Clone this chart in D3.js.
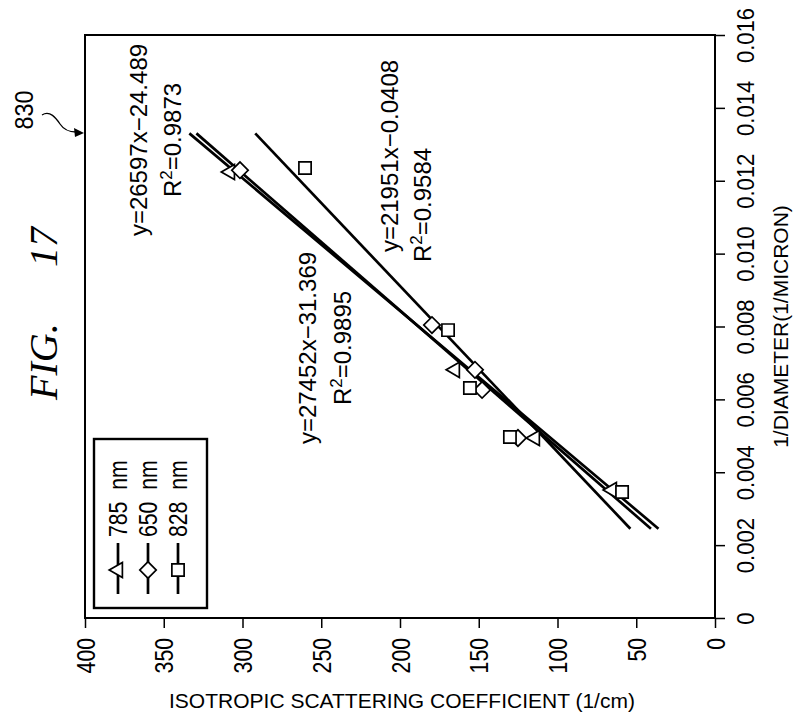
<!DOCTYPE html>
<html><head><meta charset="utf-8">
<script src="https://cdn.jsdelivr.net/npm/d3@7/dist/d3.min.js"></script>
<style>body{margin:0;background:#fff}svg{display:block}</style>
</head><body>
<svg id="c" width="801" height="725"></svg>
<script>
// ---------- data ----------
const scatterTicks = [400, 350, 300, 250, 200, 150, 100, 50, 0];
const invTicks = [0, 0.002, 0.004, 0.006, 0.008, 0.010, 0.012, 0.014, 0.016];
const seriesNames = ["785  nm", "650  nm", "828  nm"];
const inv785  = [0.01224, 0.00681, 0.00494, 0.00351];
const scat785 = [307.9, 165.1, 114.3, 65.4];
const inv650  = [0.01229, 0.00804, 0.00681, 0.00626, 0.00494];
const scat650 = [301.6, 179.7, 152.4, 147.9, 125.1];
const inv828  = [0.01235, 0.00790, 0.00631, 0.00497, 0.00346];
const scat828 = [260.3, 169.5, 155.6, 130.2, 59.0];
const slopes = [27452, 26597, 21951];
const intercepts = [-31.369, -24.489, -0.0408];
const eqTexts = ["y=27452x\u221231.369", "y=26597x\u221224.489", "y=21951x\u22120.0408"];
const r2Texts = ["=0.9895", "=0.9873", "=0.9584"];
const fitRange = [0.00245, 0.0133];
const xTitle = "ISOTROPIC  SCATTERING  COEFFICIENT  (1/cm)";
const yTitle = "1/DIAMETER(1/MICRON)";

// ---------- layout ----------
const L = 85, R = 715, T = 35, B = 618;
const FONT = "'Liberation Sans', Arial, sans-serif";
const svg = d3.select("#c");
const sx = d3.scaleLinear().domain([0, 400]).range([R, L]);
const sy = d3.scaleLinear().domain([0, 0.016]).range([B, T]);

const series = [
  {name: seriesNames[0], inv: inv785, sc: scat785, sym: "tri"},
  {name: seriesNames[1], inv: inv650, sc: scat650, sym: "dia"},
  {name: seriesNames[2], inv: inv828, sc: scat828, sym: "sq"}
];

function marker(sel, type) {
  if (type === "tri") {
    sel.append("path").attr("d", d3.symbol(d3.symbolTriangle, 100)()).attr("transform", "rotate(-90)");
  } else if (type === "dia") {
    sel.append("path").attr("d", d3.symbol(d3.symbolSquare, 135)()).attr("transform", "rotate(45)");
  } else {
    sel.append("path").attr("d", d3.symbol(d3.symbolSquare, 150)());
  }
  sel.selectAll("path").attr("fill", "#fff").attr("stroke", "#000").attr("stroke-width", 1.7);
}

// frame
svg.append("rect").attr("x", L).attr("y", T).attr("width", R - L).attr("height", B - T)
  .attr("fill", "none").attr("stroke", "#000").attr("stroke-width", 2);

// bottom axis
const SQ = 0.85;
const gx = svg.append("g").attr("transform", `translate(0,${B})`)
  .call(d3.axisBottom(sx).tickValues(scatterTicks).tickSize(10).tickSizeOuter(0).tickFormat(d3.format("d")));
gx.select(".domain").remove();
gx.selectAll("line").attr("stroke", "#000").attr("stroke-width", 1.5);
gx.selectAll("text").attr("transform", `rotate(-90) scale(${SQ},1)`).attr("x", -20 / SQ).attr("y", 0).attr("dy", "0.36em")
  .attr("text-anchor", "end").attr("font-family", FONT).attr("font-size", 25).attr("fill", "#000");

// right axis
const gy = svg.append("g").attr("transform", `translate(${R},0)`)
  .call(d3.axisRight(sy).tickValues(invTicks).tickSize(10).tickSizeOuter(0)
    .tickFormat(d => d === 0 ? "0" : d3.format(".3f")(d)));
gy.select(".domain").remove();
gy.selectAll("line").attr("stroke", "#000").attr("stroke-width", 1.5);
gy.selectAll("text").attr("transform", "rotate(-90) scale(0.92,1)").attr("x", 0).attr("y", 39).attr("dy", 0)
  .attr("text-anchor", "middle").attr("font-family", FONT).attr("font-size", 24).attr("fill", "#000");

// axis titles
svg.append("text").attr("x", (L + R) / 2 + 2).attr("y", 708).attr("text-anchor", "middle")
  .attr("font-family", FONT).attr("font-size", 21).text(xTitle);
svg.append("text").attr("transform", `translate(788,${(T + B) / 2}) rotate(-90)`).attr("text-anchor", "middle")
  .attr("font-family", FONT).attr("font-size", 21).text(yTitle);

// trend lines
series.forEach((s, i) => {
  svg.append("line")
    .attr("x1", sx(slopes[i] * fitRange[0] + intercepts[i])).attr("y1", sy(fitRange[0]))
    .attr("x2", sx(slopes[i] * fitRange[1] + intercepts[i])).attr("y2", sy(fitRange[1]))
    .attr("stroke", "#000").attr("stroke-width", 2.7);
});

// points
series.forEach(s => {
  s.inv.forEach((v, j) => {
    const g = svg.append("g").attr("transform", `translate(${sx(s.sc[j])},${sy(v)})`);
    marker(g, s.sym);
  });
});

// equations
const eqPos = [ {x: 316, y: 348, rx: 351}, {x: 147, y: 140, rx: 181}, {x: 398, y: 156, rx: 431, ry: 205} ];
eqTexts.forEach((t, i) => {
  const p = eqPos[i];
  svg.append("text").attr("transform", `translate(${p.x},${p.y}) rotate(-90)`).attr("text-anchor", "middle")
    .attr("font-family", FONT).attr("font-size", 24).text(t);
  const r = svg.append("text").attr("transform", `translate(${p.rx},${p.ry || p.y}) rotate(-90)`).attr("text-anchor", "middle")
    .attr("font-family", FONT).attr("font-size", 24);
  r.append("tspan").text("R");
  r.append("tspan").attr("dy", -9).attr("font-size", 17).text("2");
  r.append("tspan").attr("dy", 9).text(r2Texts[i]);
});

// legend
const lg = svg.append("g");
lg.append("rect").attr("x", 94).attr("y", 439).attr("width", 113).attr("height", 169)
  .attr("fill", "#fff").attr("stroke", "#000").attr("stroke-width", 2.4);
series.forEach((s, i) => {
  const cx = 118 + i * 30;
  lg.append("line").attr("x1", cx).attr("x2", cx).attr("y1", 543).attr("y2", 594)
    .attr("stroke", "#000").attr("stroke-width", 2.7);
  const g = lg.append("g").attr("transform", `translate(${cx},570)`);
  marker(g, s.sym);
  lg.append("text").attr("transform", `translate(${cx + 9},537) rotate(-90) scale(${SQ},1)`).attr("text-anchor", "start")
    .attr("font-family", FONT).attr("font-size", 25).style("white-space", "pre").text(s.name);
});

// figure label
svg.append("text").attr("transform", "translate(57,400) rotate(-90)")
  .attr("font-family", "'Liberation Serif', 'Times New Roman', serif").attr("font-style", "italic")
  .attr("font-size", 40).text("FIG.");
svg.append("text").attr("transform", "translate(57,267) rotate(-90)")
  .attr("font-family", "'Liberation Serif', 'Times New Roman', serif").attr("font-style", "italic")
  .attr("font-size", 40).text("17");
svg.append("text").attr("transform", "translate(33,110) rotate(-90) scale(0.9,1)").attr("text-anchor", "middle")
  .attr("font-family", FONT).attr("font-size", 26).text("830");
svg.append("path").attr("d", "M42,115 C50,110 56,118 60,124 C64,130 70,132 76,132")
  .attr("fill", "none").attr("stroke", "#000").attr("stroke-width", 1.3);
svg.append("path").attr("d", "M84,133 L74,128 L75,137 Z").attr("fill", "#000");
</script>
</body></html>
